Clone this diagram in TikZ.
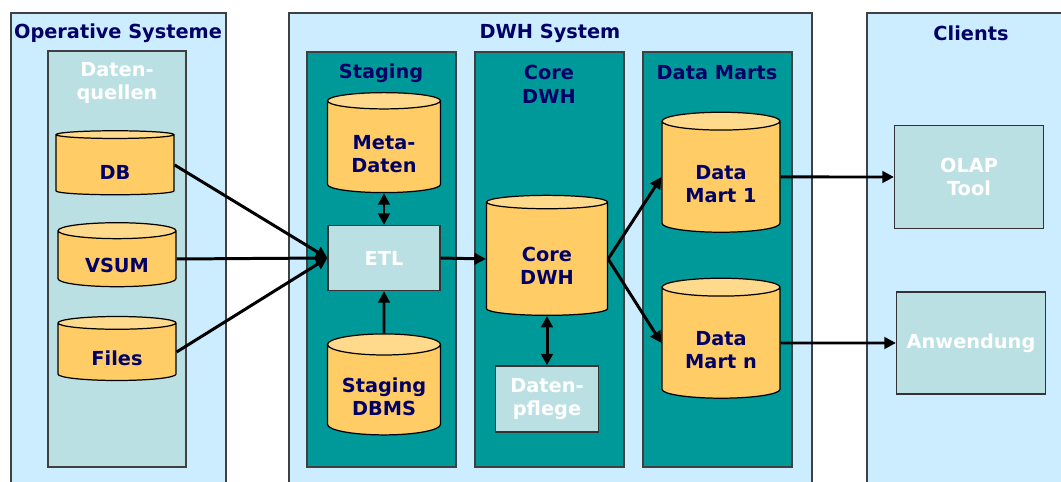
\documentclass[tikz,border=0pt]{standalone}
\usepackage{fontspec}
\setmainfont{DejaVu Sans}
\usetikzlibrary{arrows.meta,shapes.geometric}
\definecolor{dwhsky}{HTML}{CCECFF}
\definecolor{dwhteal}{HTML}{009999}
\definecolor{dwhpale}{HTML}{BBE0E3}
\definecolor{dwhgold}{HTML}{FFCC66}
\definecolor{dwhgoldtop}{HTML}{FFD98C}
\definecolor{dwhnavy}{HTML}{000066}
\newcommand{\toppad}{\rule{0pt}{16pt}}

\begin{document}
\begin{tikzpicture}[x=0.02cm, y=-0.02cm,
  panel/.style={draw=black!75, line width=0.6pt, fill=dwhsky},
  lane/.style={draw=black!75, line width=0.6pt, fill=dwhteal},
  heading/.style={font=\fontsize{11}{13.5}\selectfont\bfseries, text=dwhnavy, align=center},
  store/.style={cylinder, shape border rotate=90, draw, line width=0.7pt,
                cylinder uses custom fill, cylinder body fill=dwhgold,
                cylinder end fill=dwhgoldtop, aspect=0.25, inner sep=0pt,
                font=\fontsize{11}{13.5}\selectfont\bfseries, text=dwhnavy, align=center},
  tool/.style={draw=black!80, line width=0.7pt, fill=dwhpale, inner sep=0pt,
               font=\fontsize{11}{13.5}\selectfont\bfseries, text=white, align=center},
  flow/.style={-{Triangle[length=2.3mm,width=2.3mm]}, line width=1.7pt},
  both/.style={flow, {Triangle[length=2.3mm,width=2.3mm]}-{Triangle[length=2.3mm,width=2.3mm]}},
]
  \useasboundingbox (0,0) rectangle (1061,482);
  \clip (0,0) rectangle (1061,482);

  % columns
  \draw[panel] (11,13) rectangle (226,495);
  \draw[panel] (289,13) rectangle (812,495);
  \draw[panel] (867,13) rectangle (1075,495);
  \draw[draw=black!75, line width=0.6pt, fill=dwhpale] (48,51) rectangle (186,467);
  \draw[lane] (307,52) rectangle (456,467);
  \draw[lane] (475,52) rectangle (624,467);
  \draw[lane] (643,52) rectangle (792,467);

  \node[heading] (ostitle) at (118,33) {Operative Systeme};
  \node[heading, text=white] (dqtitle) at (117,83) {Daten-\\quellen};
  \node[heading] (dwhtitle) at (550,33) {DWH System};
  \node[heading] (stgtitle) at (381,73) {Staging};
  \node[heading] (coretitle) at (549,84) {Core\\DWH};
  \node[heading] (dmtitle) at (717,73) {Data Marts};
  \node[heading] (cltitle) at (971,33) {Clients};

  % sources
  \node[store, minimum width=2.36cm, minimum height=1.28cm] (db) at (115,165) {\toppad DB};
  \node[store, minimum width=2.36cm, minimum height=1.28cm] (vsum) at (117,259) {\toppad VSUM};
  \node[store, minimum width=2.36cm, minimum height=1.28cm] (files) at (117,352) {\toppad Files};

  % staging
  \node[store, minimum width=2.26cm, minimum height=2cm] (meta) at (384,147) {\toppad Meta-\\Daten};
  \node[tool, minimum width=2.24cm, minimum height=1.3cm] (etl) at (384,258) {ETL};
  \node[store, minimum width=2.26cm, minimum height=2.02cm] (stagedb) at (384,390) {\toppad Staging\\DBMS};

  % core
  \node[store, minimum width=2.42cm, minimum height=2.4cm] (core) at (547,259) {\toppad Core\\DWH};
  \node[tool, minimum width=2.06cm, minimum height=1.32cm] (pflege) at (547,399) {Daten-\\pflege};

  % marts
  \node[store, minimum width=2.36cm, minimum height=2.4cm] (dm1) at (721,177) {\toppad Data\\Mart 1};
  \node[store, minimum width=2.36cm, minimum height=2.4cm] (dmn) at (721,343) {\toppad Data\\Mart n};

  % clients
  \node[tool, minimum width=2.98cm, minimum height=2.06cm] (olap) at (969,177) {OLAP\\Tool};
  \node[tool, minimum width=2.98cm, minimum height=2.04cm] (app) at (971,343) {Anwendung};

  \draw[flow] (db.east) -- (etl.west);
  \draw[flow] (vsum.east) -- (etl.west);
  \draw[flow] (files.east) -- (etl.west);
  \draw[both] (meta.south) -- (etl.north);
  \draw[flow] (stagedb.north) -- (etl.south);
  \draw[flow] (etl.east) -- (core.west);
  \draw[both] (core.south) -- (pflege.north);
  \draw[flow] (core.east) -- (dm1.west);
  \draw[flow] (core.east) -- (dmn.west);
  \draw[flow] (dm1.east) -- (olap.west);
  \draw[flow] (dmn.east) -- (app.west);
\end{tikzpicture}
\end{document}
